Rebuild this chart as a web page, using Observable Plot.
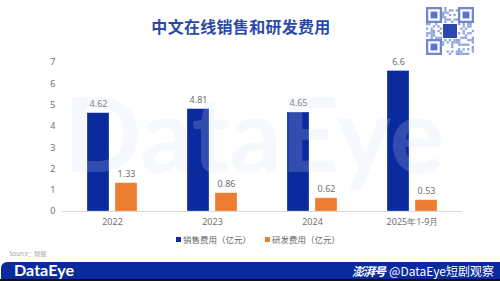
<!DOCTYPE html>
<html><head><meta charset="utf-8">
<script src="https://cdn.jsdelivr.net/npm/d3@7"></script>
<script src="https://cdn.jsdelivr.net/npm/@observablehq/plot@0.6"></script>
<style>
html,body{margin:0;padding:0;background:#fff;}
#wrap{position:relative;width:500px;height:281px;overflow:hidden;font-family:"Noto Sans CJK SC","Noto Sans",sans-serif;}
#chart{position:absolute;left:0;top:0;}
#title{position:absolute;left:0;width:482px;top:14px;text-align:center;font-size:16px;font-weight:bold;color:#2b4aa8;letter-spacing:0.3px;}
#legend{position:absolute;top:233px;left:0;width:516px;text-align:center;font-size:8.5px;color:#666;}
#legend span.sw{display:inline-block;width:5px;height:5px;margin-right:2px;vertical-align:1px;}
#legend .item{margin:0 7px;}
#source{position:absolute;left:9px;top:249px;font-size:6px;color:#a5a5a5;}
#banner{position:absolute;left:1px;top:262px;width:499px;height:17px;background:#0b2a9e;border-top-left-radius:6px;}
#bottomline{position:absolute;left:0;top:279px;width:500px;height:2px;background:#111;}
#logo{position:absolute;left:0;top:0;}
#handle{position:absolute;right:6px;top:262px;font-size:12px;color:#fff;white-space:nowrap;}
#handle b{font-style:italic;letter-spacing:-1px;margin-right:4px;}
#qr{position:absolute;left:426px;top:7px;}
#wm{position:absolute;left:0;top:0;pointer-events:none;}
</style></head>
<body><div id="wrap">
<div id="title">中文在线销售和研发费用</div>
<div id="chart"></div>
<svg id="wm" width="500" height="281"></svg>
<svg id="qr" width="48" height="48"></svg>
<div id="legend"></div>
<div id="source">Source：财报</div>
<div id="banner"></div>
<div id="bottomline"></div>
<svg id="logo" width="120" height="281"></svg>
<div id="handle"><b>澎湃号</b>@DataEye短剧观察</div>
</div>
<script>
// ---- data ----
const years = ["2022", "2023", "2024", "2025年1-9月"];
const series = ["销售费用（亿元）", "研发费用（亿元）"];
const salesValues = [4.62, 4.81, 4.65, 6.6];
const rdValues = [1.33, 0.86, 0.62, 0.53];
const yTicks = [0, 1, 2, 3, 4, 5, 6, 7];
const colors = ["#0b2a9e", "#ed7d31"];

const rows = [];
years.forEach((y, i) => {
  rows.push({year: y, series: series[0], value: salesValues[i]});
  rows.push({year: y, series: series[1], value: rdValues[i]});
});

const chart = Plot.plot({
  width: 500,
  height: 281,
  marginLeft: 62,
  marginRight: 38,
  marginTop: 62,
  marginBottom: 70,
  style: {background: "transparent", fontFamily: "Noto Sans, sans-serif", fontSize: "9px", color: "#6f6f6f"},
  fx: {domain: years, padding: 0, label: null, tickSize: 0, tickPadding: 7},
  x: {domain: series, paddingInner: 0.2, paddingOuter: 0.83, axis: null},
  y: {domain: [0, 7], ticks: yTicks, tickSize: 0, tickPadding: 7, label: null, tickFormat: d3.format("d")},
  color: {domain: series, range: colors},
  marks: [
    Plot.ruleY([0], {stroke: "#d9d9d9", strokeWidth: 1}),
    Plot.barY(rows, {fx: "year", x: "series", y: "value", fill: "series", stroke: "#ffffff", strokeOpacity: 0.35, strokeWidth: 0.8}),
    Plot.text(rows, {fx: "year", x: "series", y: "value", text: d => String(d.value), dy: -9, fill: "#6f6f6f", fontSize: 9})
  ]
});
document.getElementById("chart").appendChild(chart);

// legend
const lg = document.getElementById("legend");
series.forEach((s, i) => {
  const it = document.createElement("span");
  it.className = "item";
  it.innerHTML = `<span class="sw" style="background:${colors[i]}"></span>${s}`;
  lg.appendChild(it);
});

// watermark
const wm = d3.select("#wm");
wm.append("text").attr("x", 64).attr("y", 172).attr("textLength", 380).attr("lengthAdjust", "spacingAndGlyphs")
  .attr("font-family", "Lato, sans-serif").attr("font-weight", "bold").attr("font-size", 104)
  .attr("fill", "rgb(205,218,246)").attr("fill-opacity", 0.2).text("DataEye");

// banner logo
d3.select("#logo").append("text").attr("x", 14).attr("y", 276).attr("textLength", 60).attr("lengthAdjust", "spacingAndGlyphs")
  .attr("font-family", "Lato, sans-serif").attr("font-weight", "bold").attr("font-size", 16).attr("fill", "#fff").text("DataEye");

// QR-like decoration
const qr = d3.select("#qr");
const n = 21, c = 48 / n;
let seed = 7;
function nxt(){ seed = (seed * 1103515245 + 12345) % 2147483648; return seed / 2147483648; }
for (let r = 0; r < n; r++) for (let k = 0; k < n; k++) {
  const inFinder = (r < 7 && k < 7) || (r < 7 && k >= n - 7) || (r >= n - 7 && k < 7);
  if (inFinder) continue;
  if (nxt() < 0.42) qr.append("rect").attr("x", k * c).attr("y", r * c).attr("width", c).attr("height", c).attr("fill", "#8fa3de");
}
[[0,0],[0,n-7],[n-7,0]].forEach(([r,k]) => {
  qr.append("rect").attr("x", k*c+c/2).attr("y", r*c+c/2).attr("width", 6*c).attr("height", 6*c).attr("fill", "none").attr("stroke", "#7088d2").attr("stroke-width", c);
  qr.append("rect").attr("x", k*c+2*c).attr("y", r*c+2*c).attr("width", 3*c).attr("height", 3*c).attr("fill", "#5a74c8");
});
qr.append("rect").attr("x", 16).attr("y", 16).attr("width", 16).attr("height", 16).attr("fill", "#fff");
qr.append("rect").attr("x", 17).attr("y", 17).attr("width", 14).attr("height", 14).attr("fill", "#2a48b0");
</script>
</body></html>
